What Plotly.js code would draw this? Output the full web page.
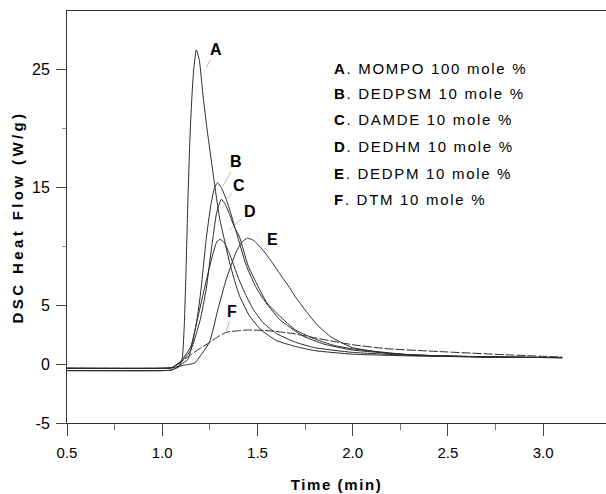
<!DOCTYPE html>
<html>
<head>
<meta charset="utf-8">
<script src="https://cdn.plot.ly/plotly-3.0.1.min.js"></script>
<style>
html,body{margin:0;padding:0;background:#fff;}
#chart{width:606px;height:494px;}
.xtitle{letter-spacing:1.6px;}
.ytitle{letter-spacing:3.4px;}
.annotation-text{letter-spacing:1.7px;}
</style>
</head>
<body>
<div id="chart"></div>
<script>
// ---- data (time in min, heat flow in W/g) ----
var tA = [0.5, 1.0, 1.05, 1.09, 1.105, 1.115, 1.125, 1.135, 1.145, 1.155, 1.165, 1.179, 1.195, 1.213, 1.231, 1.266, 1.30, 1.33, 1.354, 1.38, 1.406, 1.458, 1.52, 1.6, 1.7, 1.8, 2.0, 2.3, 2.7, 3.1];
var vA = [-0.55, -0.55, -0.5, -0.2, 0.5, 3, 8, 14, 19, 22.5, 25, 26.7, 25.8, 23, 20.5, 16.3, 12.5, 10.3, 8.6, 7.1, 5.8, 4.1, 2.9, 2.0, 1.5, 1.15, 0.85, 0.7, 0.6, 0.55];

var tB = [0.5, 1.0, 1.05, 1.1, 1.15, 1.18, 1.204, 1.23, 1.255, 1.275, 1.29, 1.31, 1.336, 1.36, 1.389, 1.441, 1.49, 1.528, 1.616, 1.738, 1.85, 2.0, 2.3, 2.7, 3.1];
var vB = [-0.35, -0.35, -0.3, 0.3, 1.5, 3.5, 6.4, 10.5, 13.5, 15.0, 15.4, 15.0, 14.0, 12.8, 11.2, 8.4, 6.6, 5.6, 3.8, 2.4, 1.7, 1.2, 0.8, 0.62, 0.55];

var tC = [0.5, 1.0, 1.05, 1.1, 1.15, 1.2, 1.231, 1.26, 1.285, 1.31, 1.33, 1.354, 1.38, 1.406, 1.45, 1.494, 1.55, 1.616, 1.7, 1.808, 1.9, 2.0, 2.3, 2.7, 3.1];
var vC = [-0.35, -0.35, -0.3, 0.2, 1.2, 3.8, 6.4, 10.0, 12.8, 14.0, 13.6, 12.7, 11.6, 10.8, 8.4, 6.9, 5.2, 4.1, 2.9, 2.1, 1.6, 1.3, 0.8, 0.62, 0.55];

var tD = [0.5, 1.0, 1.05, 1.1, 1.135, 1.18, 1.23, 1.26, 1.284, 1.30, 1.315, 1.327, 1.35, 1.371, 1.40, 1.441, 1.48, 1.528, 1.6, 1.7, 1.8, 2.0, 2.3, 2.7, 3.1];
var vD = [-0.55, -0.55, -0.5, 0.0, 0.4, 3.5, 7.0, 9.0, 10.3, 10.6, 10.5, 10.3, 9.5, 8.6, 7.3, 5.8, 4.6, 3.55, 2.6, 1.86, 1.4, 1.0, 0.75, 0.6, 0.55];

var tE = [0.5, 1.0, 1.055, 1.11, 1.171, 1.2, 1.249, 1.29, 1.336, 1.39, 1.42, 1.448, 1.48, 1.528, 1.57, 1.616, 1.66, 1.70, 1.76, 1.81, 1.878, 1.95, 2.0, 2.19, 2.5, 2.8, 3.1];
var vE = [-0.35, -0.35, -0.3, -0.1, 0.1, 0.7, 1.9, 4.5, 7.2, 9.6, 10.4, 10.7, 10.5, 9.7, 8.8, 7.7, 6.7, 5.7, 4.4, 3.4, 2.4, 1.75, 1.4, 0.9, 0.68, 0.6, 0.57];

var tF = [0.5, 1.0, 1.055, 1.1, 1.15, 1.2, 1.249, 1.29, 1.336, 1.406, 1.45, 1.55, 1.686, 1.78, 1.878, 2.0, 2.19, 2.455, 2.8, 3.1];
var vF = [-0.35, -0.35, -0.3, 0.2, 0.8, 1.35, 1.84, 2.3, 2.7, 2.85, 2.9, 2.85, 2.6, 2.3, 2.0, 1.65, 1.3, 1.07, 0.8, 0.6];

var curveNames = ['A', 'B', 'C', 'D', 'E', 'F'];
var legendLines = ['MOMPO 100 mole %', 'DEDPSM 10 mole %', 'DAMDE 10 mole %', 'DEDHM 10 mole %', 'DEDPM 10 mole %', 'DTM 10 mole %'];
// curve labels: label position and leader tip
var labelT = [1.284, 1.389, 1.406, 1.462, 1.584, 1.371];
var labelV = [26.7, 17.2, 15.2, 13.0, 10.6, 4.5];
var tipT = [1.231, 1.318, 1.336, 1.354, 1.528, 1.336];
var tipV = [25.2, 15.1, 14.0, 11.4, 9.6, 2.8];
var legendT = 1.892;
var legendV = [25.1, 23.0, 20.8, 18.5, 16.2, 14.0];

var xTickVals = [0.5, 1.0, 1.5, 2.0, 2.5, 3.0];
var xTickText = ['0.5', '1.0', '1.5', '2.0', '2.5', '3.0'];
var yTickVals = [-5, 0, 5, 15, 25];
var yTickText = ['-5', '0', '5', '15', '25'];

var ts = [tA, tB, tC, tD, tE, tF];
var vs = [vA, vB, vC, vD, vE, vF];

var traces = ts.map(function (t, i) {
  return {
    x: t, y: vs[i], type: 'scatter', mode: 'lines', name: curveNames[i],
    line: {color: '#2a2a2a', width: 1, shape: 'spline', smoothing: 0.5,
           dash: i === 5 ? '9px,2px' : 'solid'},
    hoverinfo: 'skip', showlegend: false
  };
});

var FONT = 'Liberation Sans, Arial, sans-serif';
var annotations = [];
curveNames.forEach(function (n, i) {
  annotations.push({
    x: tipT[i], y: tipV[i], xref: 'x', yref: 'y',
    ax: labelT[i], ay: labelV[i], axref: 'x', ayref: 'y',
    text: '<b>' + n + '</b>', showarrow: true, arrowhead: 0, arrowwidth: 0.7,
    arrowcolor: '#9a9a9a', standoff: 0, startstandoff: 0,
    font: {family: FONT, size: 16, color: '#000'}
  });
});
legendLines.forEach(function (s, i) {
  annotations.push({
    x: legendT, y: legendV[i], xref: 'x', yref: 'y', xanchor: 'left', yanchor: 'middle',
    text: '<b>' + curveNames[i] + '</b>. ' + s, showarrow: false,
    font: {family: FONT, size: 15, color: '#000'}
  });
});

var layout = {
  width: 606, height: 494,
  margin: {l: 67, r: 0, t: 11, b: 71, pad: 0},
  paper_bgcolor: '#fff', plot_bgcolor: '#fff',
  font: {family: FONT, color: '#000'},
  showlegend: false,
  xaxis: {
    range: [0.5, 3.33], showgrid: false, zeroline: false,
    showline: true, linecolor: '#333', linewidth: 1, mirror: true,
    tickvals: xTickVals, ticktext: xTickText, ticks: 'outside', ticklen: 12,
    tickcolor: '#444', tickwidth: 1, ticklabelstandoff: 4,
    tickfont: {family: FONT, size: 15, color: '#000'},
    minor: {tickvals: [0.75, 1.25, 1.75, 2.25, 2.75], ticks: 'outside', ticklen: 6, tickcolor: '#777', showgrid: false},
    title: {text: '<b>Time (min)</b>', font: {family: FONT, size: 15, color: '#000'}, standoff: 19}
  },
  yaxis: {
    range: [-5, 30], showgrid: false, zeroline: false,
    showline: true, linecolor: '#333', linewidth: 1,
    tickvals: yTickVals, ticktext: yTickText, ticks: 'outside', ticklen: 10,
    tickcolor: '#444', tickwidth: 1, ticklabelstandoff: 3,
    tickfont: {family: FONT, size: 16, color: '#000'},
    minor: {tickvals: [10, 20], ticks: 'outside', ticklen: 4, tickcolor: '#999', showgrid: false},
    title: {text: '<b>DSC Heat Flow (W/g)</b>', font: {family: FONT, size: 15, color: '#000'}, standoff: 4}
  },
  annotations: annotations
};

Plotly.newPlot('chart', traces, layout, {displayModeBar: false, staticPlot: true});
</script>
</body>
</html>
